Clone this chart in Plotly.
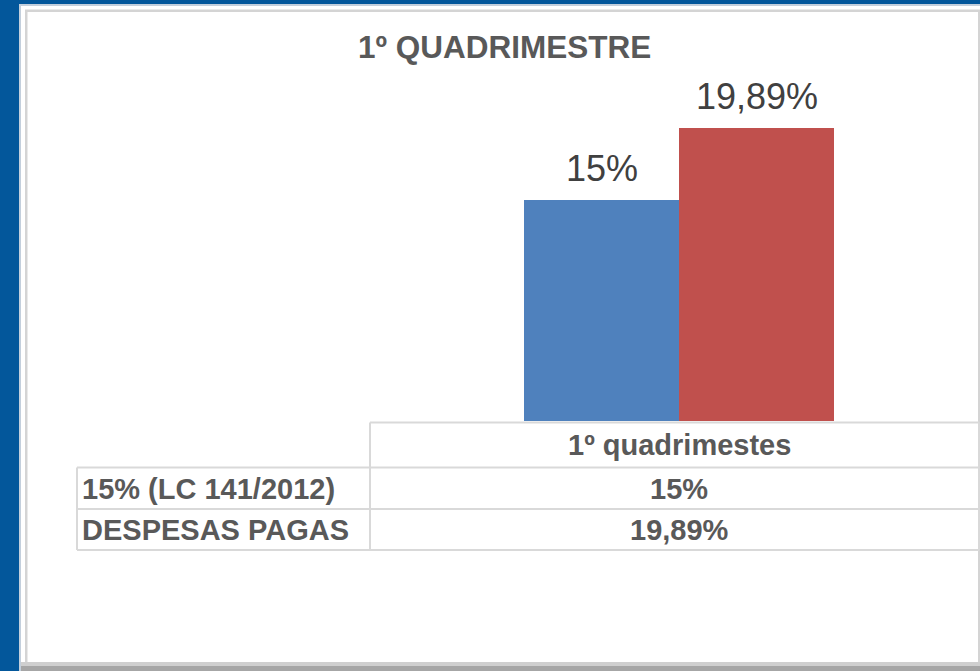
import plotly.graph_objects as go

W, H = 980, 671

# ---- data ----
categories = ["1º quadrimestes"]
series_names = ["15% (LC 141/2012)", "DESPESAS PAGAS"]
series_values = [[15], [19.89]]
series_colors = ["#4f81bd", "#c0504d"]
title_text = "1º QUADRIMESTRE"


def fmt(v):
    return f"{v:g}".replace(".", ",") + "%"


def px(x):
    return x / W


def py(y):
    return 1 - y / H


FONT = "Arial, Liberation Sans, sans-serif"
GRAY = "#595959"

fig = go.Figure()
for name, vals, col in zip(series_names, series_values, series_colors):
    fig.add_trace(go.Bar(
        x=[0], y=vals, name=name,
        marker=dict(color=col, line=dict(width=0)),
        cliponaxis=False, hoverinfo="skip",
    ))

shapes = []
# panel frame
shapes.append(dict(type="rect", xref="paper", yref="paper", x0=px(19), x1=px(990), y0=py(4), y1=py(680),
                   fillcolor="#c3cfdc", line=dict(width=0), layer="below"))
shapes.append(dict(type="rect", xref="paper", yref="paper", x0=px(21), x1=px(990), y0=py(6), y1=py(680),
                   fillcolor="#ffffff", line=dict(width=0), layer="below"))
shapes.append(dict(type="rect", xref="paper", yref="paper", x0=px(25), x1=px(990), y0=py(9.5), y1=py(680),
                   fillcolor="#d4d4d4", line=dict(width=0), layer="below"))
shapes.append(dict(type="rect", xref="paper", yref="paper", x0=px(27.5), x1=px(978), y0=py(12), y1=py(662),
                   fillcolor="#ffffff", line=dict(width=0), layer="below"))
shapes.append(dict(type="rect", xref="paper", yref="paper", x0=px(21), x1=px(990), y0=py(662), y1=py(666),
                   fillcolor="#cfcfcf", line=dict(width=0), layer="below"))
shapes.append(dict(type="rect", xref="paper", yref="paper", x0=px(21), x1=px(990), y0=py(666), y1=py(672),
                   fillcolor="#a6a6a6", line=dict(width=0), layer="below"))

# data table lines
LC = "#d9d9d9"
def hline(x0, x1, y):
    shapes.append(dict(type="line", xref="paper", yref="paper", x0=px(x0), x1=px(x1), y0=py(y), y1=py(y),
                       line=dict(color=LC, width=2)))
def vline(x, y0, y1):
    shapes.append(dict(type="line", xref="paper", yref="paper", x0=px(x), x1=px(x), y0=py(y0), y1=py(y1),
                       line=dict(color=LC, width=2)))

hline(370, 979, 422.5)
hline(77, 979, 467.5)
hline(77, 979, 509)
hline(77, 979, 550)
vline(77, 467.5, 550)
vline(370, 422.5, 550)
vline(979, 422.5, 550)

annotations = [
    dict(text=f"<b>{title_text}</b>", x=px(505), y=py(47), xref="paper", yref="paper",
         showarrow=False, xanchor="center", yanchor="middle",
         font=dict(family=FONT, size=31.5, color=GRAY)),
    dict(text=f"<b>{categories[0]}</b>", x=px(679), y=py(445), xref="paper", yref="paper",
         showarrow=False, xanchor="center", yanchor="middle",
         font=dict(family=FONT, size=29, color=GRAY)),
]
# data labels above bars (bars are 0.25 wide, centred at -0.125 / +0.125)
bar_offsets = [-0.125, 0.125]
for vals, off in zip(series_values, bar_offsets):
    annotations.append(dict(text=fmt(vals[0]), x=off, y=vals[0], xref="x", yref="y",
                            showarrow=False, xanchor="center", yanchor="bottom", yshift=9,
                            font=dict(family=FONT, size=36, color="#404040")))

row_y = [489, 530]
for name, vals, yy in zip(series_names, series_values, row_y):
    annotations.append(dict(text=f"<b>{name}</b>", x=px(80), y=py(yy), xref="paper", yref="paper",
                            showarrow=False, xanchor="left", yanchor="middle",
                            font=dict(family=FONT, size=29, color=GRAY)))
    annotations.append(dict(text=f"<b>{fmt(vals[0])}</b>", x=px(679), y=py(yy), xref="paper", yref="paper",
                            showarrow=False, xanchor="center", yanchor="middle",
                            font=dict(family=FONT, size=29, color=GRAY)))

ppu = (421 - 200) / 15.0
ymax = 24
fig.update_layout(
    width=W, height=H, margin=dict(l=0, r=0, t=0, b=0),
    paper_bgcolor="#03579b", plot_bgcolor="rgba(0,0,0,0)",
    showlegend=False, barmode="group", bargap=0.5, bargroupgap=0,
    xaxis=dict(domain=[px(369), 1], range=[-0.5, -0.5 + 611 / 620], showticklabels=False,
               showgrid=False, zeroline=False, showline=False, ticks="", fixedrange=True),
    yaxis=dict(domain=[py(421), py(421 - ymax * ppu)], range=[0, ymax], visible=False,
               showgrid=False, zeroline=False, fixedrange=True),
    shapes=shapes, annotations=annotations,
)

fig.write_html("out.html")
